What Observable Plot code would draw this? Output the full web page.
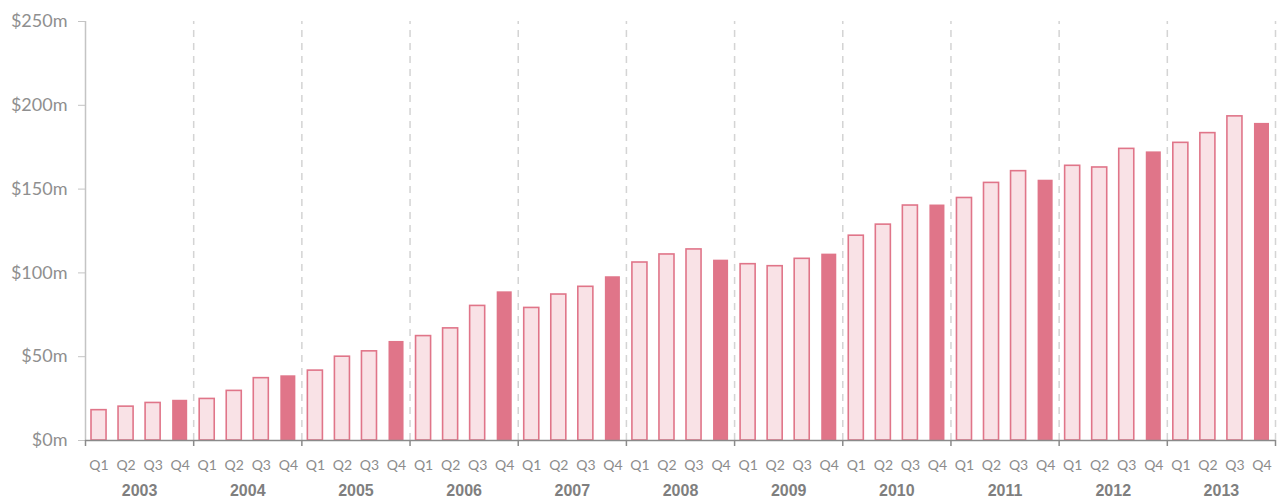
<!DOCTYPE html>
<html>
<head>
<meta charset="utf-8">
<script src="https://cdn.jsdelivr.net/npm/d3@7"></script>
<script src="https://cdn.jsdelivr.net/npm/@observablehq/plot@0.6"></script>
<style>
  html, body { margin: 0; padding: 0; background: #fff; }
  #chart svg { display: block; }
</style>
</head>
<body>
<div id="chart"></div>
<script>
// Quarterly revenue, $ millions
const years = ["2003", "2004", "2005", "2006", "2007", "2008", "2009", "2010", "2011", "2012", "2013"];
const quarters = ["Q1", "Q2", "Q3", "Q4"];
const revenue = [
  18.1, 20.2, 22.4, 24.0,
  24.8, 29.6, 37.2, 38.6,
  41.7, 50.0, 53.2, 59.1,
  62.3, 66.9, 80.3, 88.7,
  79.1, 87.1, 91.7, 97.7,
  106.2, 111.0, 114.0, 107.6,
  105.2, 104.0, 108.4, 111.2,
  122.2, 128.8, 140.2, 140.5,
  144.7, 153.7, 160.7, 155.3,
  163.9, 162.9, 174.0, 172.2,
  177.6, 183.4, 193.4, 189.2
];
const yTicks = [0, 50, 100, 150, 200, 250];

const data = revenue.map((value, i) => ({
  i,
  year: years[Math.floor(i / 4)],
  quarter: quarters[i % 4],
  value
}));
const boundaries = d3.range(0, years.length * 4 + 1, 4);
const yearCenters = years.map((year, k) => ({year, x: k * 4 + 2}));

const pink = "#e07589";
const pinkLight = "#f9e2e6";

const chart = Plot.plot({
  width: 1280,
  height: 500,
  marginLeft: 85,
  marginRight: 5,
  marginTop: 21,
  marginBottom: 60,
  style: {fontFamily: "Lato, sans-serif", background: "#fff"},
  x: {domain: [0, years.length * 4], axis: null},
  y: {domain: [0, 250], axis: null},
  marks: [
    // year separators
    Plot.ruleX(boundaries.slice(1), {y1: 0, y2: 250, stroke: "#d4d4d4", strokeWidth: 1.5, strokeDasharray: "7,6"}),
    // y axis line and ticks
    Plot.ruleX([0], {y1: 0, y2: 250, stroke: "#c4c4c4", strokeWidth: 1.5}),
    Plot.axisY({
      ticks: yTicks,
      label: null,
      tickSize: 7,
      tickPadding: 11,
      tickFormat: d => `$${d}m`,
      stroke: "#c4c4c4",
      fill: "#8f8f8f",
      fontSize: 18,
      fontFamily: "Lato, sans-serif"
    }),
    // bars: Q1–Q3 outlined, Q4 solid
    Plot.rectY(data, {
      x1: "i",
      x2: d => d.i + 1,
      y1: 0,
      y2: "value",
      insetLeft: 6,
      insetRight: 6,
      fill: d => d.quarter === "Q4" ? pink : pinkLight,
      stroke: d => d.quarter === "Q4" ? "none" : pink,
      strokeWidth: 1.6
    }),
    // x axis line and year boundary ticks
    Plot.ruleY([0], {stroke: "#8a8a8a", strokeWidth: 1.5}),
    Plot.axisX({
      ticks: boundaries,
      label: null,
      tickSize: 6,
      tickFormat: () => "",
      stroke: "#8a8a8a",
      strokeWidth: 1.5
    }),
    // quarter labels
    Plot.text(data, {
      x: d => d.i + 0.5,
      text: "quarter",
      frameAnchor: "bottom",
      dy: 29,
      fill: "#8c8c8c",
      fontSize: 14,
      fontFamily: "Lato, sans-serif"
    }),
    // year labels
    Plot.text(yearCenters, {
      x: "x",
      text: "year",
      frameAnchor: "bottom",
      dy: 55,
      fill: "#7f7f7f",
      fontSize: 16,
      fontWeight: "bold",
      fontFamily: "'Liberation Sans', Arial, sans-serif"
    })
  ]
});

document.getElementById("chart").append(chart);
</script>
</body>
</html>
